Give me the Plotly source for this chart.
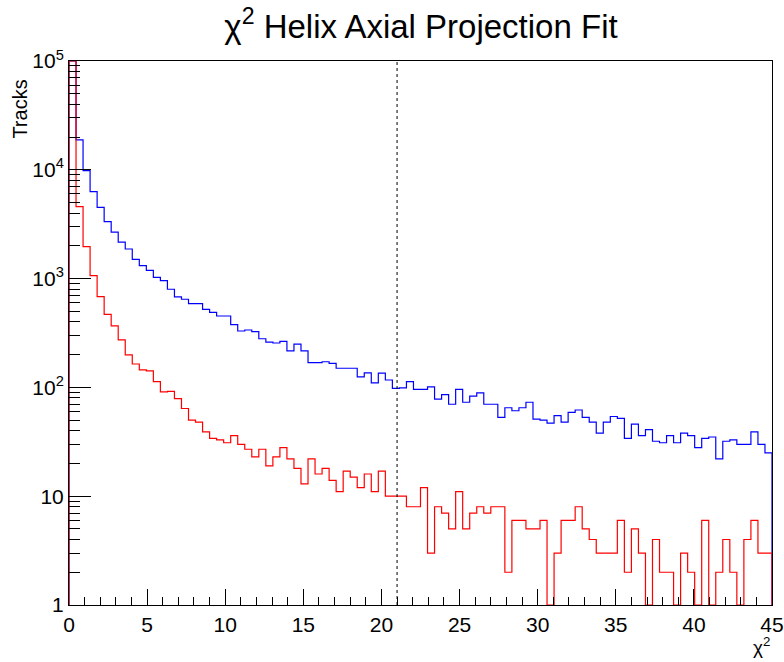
import plotly.graph_objects as go

# ---- data ----
n_bins = 100
x_min, x_max = 0.0, 45.0

# blue histogram (all tracks); first bin is off-scale (>1e5)
blue_counts = [
    230000, 18800, 9820, 6290, 4520, 3340, 2670, 2160, 1870, 1504,
    1314, 1192, 1028, 957, 798, 678, 646, 588, 588, 522,
    490, 453, 453, 378, 330, 337, 325, 280, 261, 256,
    265, 217, 250, 217, 169, 169, 172, 166, 150, 150,
    150, 125, 136, 110, 135, 117, 98, 99, 113, 96,
    96, 101, 78, 86, 70, 96, 73, 83, 89, 70,
    70, 53, 65, 61, 65, 73, 51, 50, 47, 55,
    48, 59, 62, 53, 48, 38, 48, 54, 52, 34,
    46, 36, 41, 32, 31, 36, 31, 38, 36, 28,
    34, 35, 22, 32, 33, 30, 30, 39, 30, 25,
]

# red histogram; first bin is off-scale (>1e5)
red_counts = [
    210000, 4580, 1965, 1064, 682, 470, 367, 273, 199, 164,
    145, 142, 113, 91, 92, 79, 64, 50, 48, 39,
    34, 33, 31, 36, 30, 27, 23, 27, 19, 23,
    28, 22, 18, 13, 22, 16, 18, 14, 11, 17,
    15, 12, 16, 11, 17, 10, 10, 10, 8, 8,
    12, 3, 8, 7, 5, 11, 5, 7, 8, 7,
    8, 8, 2, 6, 6, 5, 5, 6, 0, 3,
    6, 6, 8, 5, 4, 3, 3, 3, 6, 2,
    5, 3, 0, 4, 2, 2, 0, 3, 2, 0,
    6, 0, 2, 4, 2, 0, 4, 6, 3, 3,
]

cut_value = 21.0

y_tick_vals = [1, 10, 100, 1000, 10000, 100000]
y_tick_text = ["1", "10", "10<sup>2</sup>", "10<sup>3</sup>", "10<sup>4</sup>", "10<sup>5</sup>"]
x_tick_vals = [0, 5, 10, 15, 20, 25, 30, 35, 40, 45]

title_text = "χ<sup>2</sup> Helix Axial Projection Fit"
y_title = "Tracks"
x_title = "χ<sup>2</sup>"

# ---- build ----
y_lo, y_hi = 1.0, 1e5
bw = (x_max - x_min) / n_bins
edges = [x_min + i * bw for i in range(n_bins + 1)]


def step_xy(counts):
    xs = [edges[0]]
    ys = [y_lo]
    for i, c in enumerate(counts):
        v = min(max(c, y_lo), y_hi)
        xs.append(edges[i])
        ys.append(v)
    xs.append(edges[-1])
    ys.append(ys[-1])
    xs.append(edges[-1])
    ys.append(y_lo)
    return xs, ys


fig = go.Figure()
for counts, col in [(blue_counts, "rgb(0,0,255)"), (red_counts, "rgb(255,0,0)")]:
    xs, ys = step_xy(counts)
    fig.add_trace(go.Scatter(x=xs, y=ys, mode="lines", line=dict(color=col, width=1.2, shape="hv"),
                             hoverinfo="skip", showlegend=False, cliponaxis=True))

fig.add_shape(type="line", x0=cut_value, x1=cut_value, y0=0, y1=1, xref="x", yref="paper",
              line=dict(color="black", width=1, dash="3px,3px"))

minor_y = [m * 10 ** k for k in range(0, 5) for m in range(2, 10)]

font_family = "Liberation Sans, Arial, Helvetica, sans-serif"

fig.update_layout(
    width=784, height=662,
    margin=dict(l=69, r=12, t=61, b=57, autoexpand=False),
    plot_bgcolor="white", paper_bgcolor="white",
    font=dict(family=font_family, color="black", size=20),
    title=dict(text=title_text, x=0.537, xref="container", xanchor="center",
               y=0.96, yref="container", yanchor="middle", automargin=False,
               font=dict(size=33, family=font_family, color="black")),
    xaxis=dict(range=[x_min, x_max], showline=True, linecolor="black", linewidth=1, mirror=True,
               ticks="inside", ticklen=16, tickcolor="black", tickwidth=1, automargin=False,
               tickvals=x_tick_vals, showgrid=False, zeroline=False,
               tickfont=dict(size=21), ticklabelstandoff=1,
               minor=dict(ticks="inside", ticklen=8, tickcolor="black", dtick=1, showgrid=False)),
    yaxis=dict(type="log", range=[0, 5], showline=True, linecolor="black", linewidth=1, mirror=True,
               ticks="inside", ticklen=22, tickcolor="black", tickwidth=1, automargin=False,
               tickvals=y_tick_vals, ticktext=y_tick_text, showgrid=False, zeroline=False,
               tickfont=dict(size=21),
               minor=dict(ticks="inside", ticklen=11, tickcolor="black", tickvals=minor_y, showgrid=False)),
    annotations=[
        dict(text=y_title, textangle=-90, xref="paper", yref="paper", x=-0.07, y=0.97,
             xanchor="center", yanchor="top", showarrow=False, font=dict(size=20)),
        dict(text=x_title, xref="paper", yref="paper", x=1.0, y=-0.076,
             xanchor="right", yanchor="middle", showarrow=False, font=dict(size=19)),
    ],
)

fig.write_html("out.html", config={"displayModeBar": False},
               post_script="document.body.style.margin='0';document.body.style.overflow='hidden';")
